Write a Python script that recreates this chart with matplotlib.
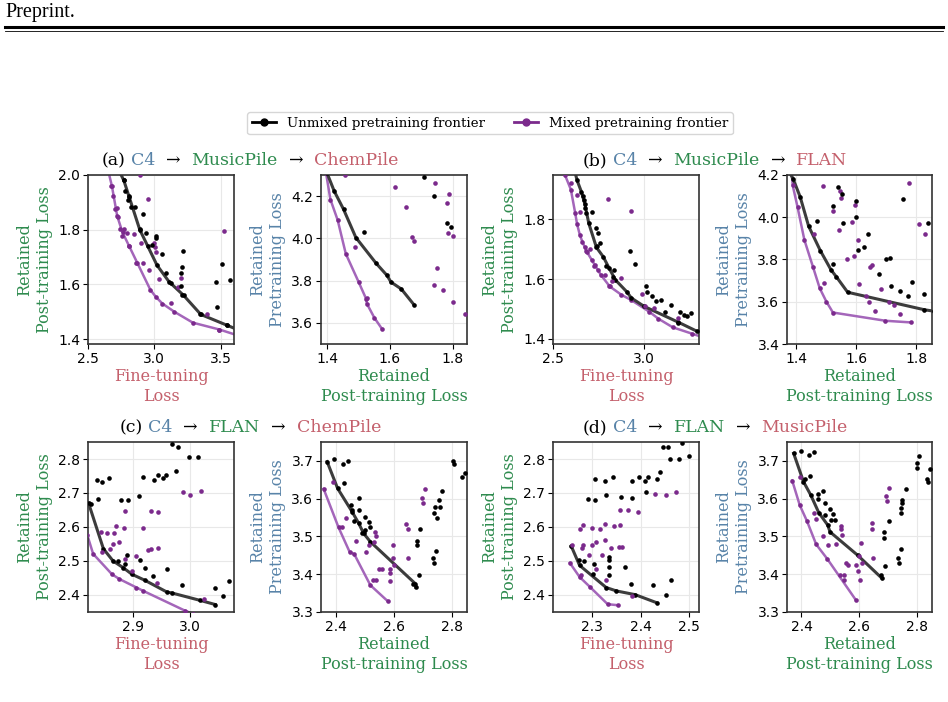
import matplotlib
matplotlib.use('Agg')
import matplotlib.pyplot as plt
from matplotlib.lines import Line2D
from matplotlib.ticker import FormatStrFormatter

# ---- data ----
# (a) left: fine-tuning loss vs retained post-training loss
a1_fb_x = [2.73, 2.77, 2.81, 2.89, 2.95, 3.02, 3.11, 3.22, 3.35, 3.55, 3.65]
a1_fb_y = [2.02, 1.98, 1.92, 1.80, 1.74, 1.67, 1.61, 1.56, 1.49, 1.45, 1.43]
a1_fp_x = [2.65, 2.68, 2.72, 2.76, 2.81, 2.87, 2.97, 3.01, 3.06, 3.15, 3.29, 3.49, 3.65]
a1_fp_y = [2.02, 1.96, 1.85, 1.79, 1.74, 1.68, 1.58, 1.555, 1.53, 1.50, 1.46, 1.435, 1.41]
a1_b_x = [2.770, 2.782, 2.807, 2.802, 2.825, 2.855, 2.913, 2.890, 2.938, 2.984, 3.016, 3.016, 3.054,
          3.089, 3.122, 3.198, 3.218, 3.210, 3.198, 3.210, 3.344, 3.462, 3.470, 3.508, 3.571, 3.545]
a1_b_y = [1.983, 1.940, 1.922, 1.910, 1.883, 1.883, 1.857, 1.801, 1.789, 1.744, 1.777, 1.768, 1.711,
          1.640, 1.606, 1.640, 1.721, 1.665, 1.594, 1.560, 1.492, 1.608, 1.517, 1.673, 1.616, 1.453]
a1_p_x = [2.676, 2.689, 2.707, 2.720, 2.727, 2.744, 2.770, 2.757, 2.795, 2.845, 2.807, 2.900, 2.953, 2.895,
          2.865, 2.916, 2.963, 3.004, 3.009, 3.001, 3.037, 3.122, 3.198, 3.180, 3.399, 3.525, 3.487]
a1_p_y = [1.959, 1.922, 1.874, 1.880, 1.845, 1.804, 1.804, 1.776, 1.789, 1.784, 1.740, 1.750, 1.914, 2.000,
          1.677, 1.677, 1.653, 1.735, 1.720, 1.750, 1.621, 1.531, 1.623, 1.592, 1.490, 1.796, 1.434]

# (a) right: retained post-training vs retained pretraining loss
a2_fb_x = [1.40, 1.423, 1.453, 1.492, 1.556, 1.591, 1.604, 1.637, 1.677]
a2_fb_y = [4.31, 4.224, 4.137, 4.004, 3.883, 3.825, 3.793, 3.760, 3.686]
a2_fp_x = [1.397, 1.411, 1.434, 1.460, 1.501, 1.525, 1.527, 1.551, 1.575]
a2_fp_y = [4.31, 4.184, 4.087, 3.927, 3.793, 3.713, 3.691, 3.624, 3.572]
a2_b_x = [1.517, 1.708, 1.740, 1.782, 1.795]
a2_b_y = [4.032, 4.291, 4.200, 4.071, 4.056]
a2_p_x = [1.458, 1.488, 1.527, 1.617, 1.651, 1.670, 1.676, 1.744, 1.750, 1.740, 1.771, 1.782,
          1.789, 1.784, 1.801, 1.801, 1.840]
a2_p_y = [4.300, 3.957, 3.718, 4.244, 4.150, 4.008, 3.988, 4.263, 3.859, 3.778, 3.754, 4.169,
          4.209, 4.024, 4.012, 3.697, 3.644]

# (b) left
b1_fb_x = [2.62, 2.632, 2.656, 2.674, 2.696, 2.738, 2.775, 2.808, 2.842, 2.903, 2.93, 3.0, 3.187, 3.288, 3.32]
b1_fb_y = [1.96, 1.931, 1.892, 1.853, 1.787, 1.706, 1.675, 1.636, 1.597, 1.558, 1.536, 1.508, 1.455, 1.425, 1.418]
b1_fp_x = [2.555, 2.565, 2.598, 2.622, 2.632, 2.647, 2.661, 2.683, 2.729, 2.762, 2.811, 2.875, 2.927,
           3.026, 3.077, 3.156, 3.26, 3.32]
b1_fp_y = [1.97, 1.95, 1.90, 1.82, 1.784, 1.748, 1.725, 1.694, 1.647, 1.614, 1.575, 1.547, 1.530,
           1.491, 1.467, 1.438, 1.417, 1.405]
b1_b_x = [2.665, 2.668, 2.678, 2.683, 2.716, 2.734, 2.747, 2.760, 2.742, 2.793, 2.833, 2.830, 2.921,
          2.949, 3.009, 3.016, 3.040, 3.062, 3.092, 3.114, 3.147, 3.196, 3.220, 3.236, 3.254, 3.187]
b1_b_y = [1.878, 1.865, 1.837, 1.822, 1.826, 1.770, 1.755, 1.722, 1.711, 1.644, 1.631, 1.608, 1.695,
          1.650, 1.577, 1.558, 1.542, 1.525, 1.530, 1.491, 1.514, 1.488, 1.480, 1.477, 1.486, 1.452]
b1_p_x = [2.601, 2.632, 2.650, 2.674, 2.687, 2.701, 2.711, 2.724, 2.747, 2.784, 2.808, 2.826, 2.870,
          2.985, 3.004, 3.053, 3.183, 2.802, 2.925]
b1_p_y = [1.923, 1.881, 1.826, 1.706, 1.689, 1.700, 1.664, 1.644, 1.631, 1.614, 1.577, 1.595, 1.603,
          1.549, 1.508, 1.503, 1.469, 1.867, 1.829]

# (b) right
b2_fb_x = [1.37, 1.389, 1.413, 1.441, 1.480, 1.516, 1.533, 1.571, 1.827, 1.86]
b2_fb_y = [4.23, 4.183, 4.096, 3.958, 3.842, 3.750, 3.719, 3.645, 3.562, 3.555]
b2_fp_x = [1.384, 1.388, 1.404, 1.427, 1.456, 1.478, 1.500, 1.522, 1.697, 1.783]
b2_fp_y = [4.22, 4.151, 4.049, 3.892, 3.763, 3.664, 3.601, 3.549, 3.510, 3.502]
b2_b_x = [1.469, 1.522, 1.521, 1.539, 1.553, 1.556, 1.600, 1.598, 1.606, 1.624, 1.639, 1.676, 1.698,
          1.711, 1.716, 1.744, 1.756, 1.771, 1.786, 1.824, 1.838]
b2_b_y = [3.983, 4.052, 3.779, 4.143, 4.109, 3.971, 4.076, 3.999, 3.845, 3.857, 3.919, 3.730, 3.801,
          3.808, 3.675, 3.651, 4.088, 3.625, 3.692, 3.637, 3.974]
b2_p_x = [1.458, 1.491, 1.489, 1.521, 1.541, 1.544, 1.549, 1.570, 1.587, 1.591, 1.594, 1.606, 1.609,
          1.633, 1.641, 1.644, 1.653, 1.661, 1.683, 1.709, 1.724, 1.747, 1.776, 1.809, 1.829]
b2_p_y = [3.923, 3.691, 4.147, 4.030, 3.939, 4.123, 4.093, 3.802, 3.978, 3.817, 4.060, 3.892, 3.685,
          3.625, 3.601, 3.763, 3.774, 3.554, 3.659, 3.601, 3.585, 3.542, 4.162, 3.966, 3.923]

# (c) left
c1_fb_x = [2.822, 2.848, 2.865, 2.883, 2.898, 2.921, 2.959, 2.968, 3.018, 3.044]
c1_fb_y = [2.670, 2.536, 2.500, 2.480, 2.461, 2.443, 2.409, 2.406, 2.384, 2.372]
c1_fp_x = [2.820, 2.830, 2.863, 2.876, 2.906, 2.918, 2.991, 3.005]
c1_fp_y = [2.575, 2.521, 2.461, 2.447, 2.422, 2.412, 2.354, 2.345]
c1_b_x = [2.827, 2.839, 2.836, 2.845, 2.858, 2.874, 2.890, 2.886, 2.878, 2.891, 2.911, 2.917, 2.912,
          2.921, 2.935, 2.936, 2.944, 2.953, 2.958, 2.960, 2.975, 2.968, 2.978, 2.985, 2.998, 3.013,
          3.044, 3.057, 3.068]
c1_b_y = [2.668, 2.683, 2.738, 2.733, 2.744, 2.500, 2.519, 2.491, 2.680, 2.678, 2.690, 2.746, 2.502,
          2.480, 2.455, 2.738, 2.754, 2.743, 2.754, 2.477, 2.764, 2.844, 2.834, 2.428, 2.807, 2.805,
          2.422, 2.396, 2.440]
c1_p_x = [2.843, 2.854, 2.866, 2.870, 2.884, 2.886, 2.845, 2.860, 2.864, 2.876, 2.886, 2.898, 2.906,
          2.917, 2.926, 2.931, 2.931, 2.943, 2.944, 2.942, 2.987, 3.000, 3.019, 3.025]
c1_p_y = [2.585, 2.583, 2.582, 2.602, 2.598, 2.648, 2.526, 2.536, 2.549, 2.557, 2.507, 2.470, 2.514,
          2.598, 2.533, 2.536, 2.648, 2.643, 2.539, 2.436, 2.702, 2.695, 2.705, 2.389]

# (c) right
c2_fb_x = [2.371, 2.407, 2.456, 2.479, 2.496, 2.519, 2.673, 2.675]
c2_fb_y = [3.698, 3.627, 3.566, 3.535, 3.508, 3.486, 3.375, 3.365]
c2_fp_x = [2.359, 2.410, 2.448, 2.464, 2.519, 2.578]
c2_fp_y = [3.626, 3.524, 3.459, 3.453, 3.371, 3.329]
c2_b_x = [2.396, 2.424, 2.441, 2.430, 2.453, 2.456, 2.479, 2.481, 2.462, 2.502, 2.513, 2.519, 2.490,
          2.502, 2.665, 2.684, 2.679, 2.679, 2.690, 2.734, 2.738, 2.745, 2.738, 2.747, 2.741, 2.753,
          2.756, 2.764, 2.802, 2.805, 2.833, 2.844]
c2_b_y = [3.704, 3.692, 3.700, 3.642, 3.583, 3.570, 3.601, 3.570, 3.542, 3.552, 3.539, 3.526, 3.510,
          3.517, 3.375, 3.397, 3.489, 3.477, 3.519, 3.442, 3.430, 3.462, 3.561, 3.550, 3.579, 3.596,
          3.579, 3.621, 3.700, 3.692, 3.658, 3.667]
c2_p_x = [2.391, 2.422, 2.437, 2.471, 2.505, 2.513, 2.533, 2.536, 2.539, 2.547, 2.558, 2.528, 2.539,
          2.585, 2.585, 2.585, 2.596, 2.598, 2.601, 2.641, 2.649, 2.649, 2.696, 2.701, 2.707]
c2_p_y = [3.645, 3.524, 3.548, 3.488, 3.458, 3.477, 3.486, 3.512, 3.501, 3.415, 3.413, 3.384, 3.386,
          3.402, 3.415, 3.382, 3.442, 3.477, 3.424, 3.532, 3.521, 3.442, 3.601, 3.589, 3.625]

# (d) left
d1_fb_x = [2.257, 2.274, 2.329, 2.350, 2.389, 2.434]
d1_fb_y = [2.543, 2.487, 2.422, 2.412, 2.401, 2.377]
d1_fp_x = [2.254, 2.274, 2.296, 2.332, 2.353]
d1_fp_y = [2.494, 2.453, 2.423, 2.373, 2.370]
d1_b_x = [2.272, 2.284, 2.303, 2.301, 2.291, 2.306, 2.305, 2.326, 2.329, 2.343, 2.334, 2.335, 2.334,
          2.335, 2.360, 2.367, 2.381, 2.383, 2.383, 2.397, 2.410, 2.412, 2.415, 2.426, 2.434, 2.441,
          2.446, 2.457, 2.460, 2.453, 2.463, 2.479, 2.486, 2.501]
d1_b_y = [2.502, 2.500, 2.492, 2.461, 2.683, 2.678, 2.741, 2.734, 2.693, 2.746, 2.512, 2.502, 2.482,
          2.459, 2.688, 2.482, 2.431, 2.686, 2.734, 2.746, 2.736, 2.702, 2.748, 2.428, 2.741, 2.761,
          2.836, 2.834, 2.799, 2.401, 2.443, 2.799, 2.847, 2.808]
d1_p_x = [2.275, 2.282, 2.300, 2.317, 2.326, 2.346, 2.358, 2.259, 2.281, 2.279, 2.299, 2.307, 2.326,
          2.293, 2.321, 2.339, 2.355, 2.361, 2.308, 2.329, 2.277, 2.383, 2.358, 2.374, 2.394, 2.430,
          2.452, 2.474]
d1_p_y = [2.593, 2.606, 2.598, 2.593, 2.609, 2.604, 2.606, 2.546, 2.546, 2.538, 2.546, 2.555, 2.562,
          2.519, 2.519, 2.539, 2.541, 2.541, 2.477, 2.443, 2.460, 2.397, 2.650, 2.650, 2.644, 2.697,
          2.694, 2.702]

# (d) right
d2_fb_x = [2.373, 2.407, 2.432, 2.460, 2.491, 2.499, 2.595, 2.679]
d2_fb_y = [3.720, 3.645, 3.610, 3.563, 3.530, 3.512, 3.450, 3.389]
d2_fp_x = [2.368, 2.394, 2.419, 2.451, 2.490, 2.589]
d2_fp_y = [3.648, 3.583, 3.541, 3.479, 3.440, 3.331]
d2_b_x = [2.397, 2.426, 2.442, 2.430, 2.414, 2.457, 2.476, 2.457, 2.480, 2.483, 2.500, 2.509, 2.503,
          2.515, 2.675, 2.691, 2.687, 2.687, 2.702, 2.733, 2.739, 2.746, 2.743, 2.743, 2.747, 2.749,
          2.762, 2.799, 2.799, 2.808, 2.833, 2.837, 2.846]
d2_b_y = [3.727, 3.716, 3.723, 3.661, 3.652, 3.612, 3.621, 3.598, 3.589, 3.557, 3.573, 3.559, 3.543,
          3.543, 3.397, 3.421, 3.512, 3.495, 3.542, 3.444, 3.430, 3.468, 3.561, 3.574, 3.596, 3.588,
          3.626, 3.694, 3.681, 3.712, 3.652, 3.645, 3.678]
d2_p_x = [2.394, 2.442, 2.451, 2.476, 2.491, 2.518, 2.537, 2.537, 2.541, 2.534, 2.546, 2.546, 2.553,
          2.561, 2.589, 2.597, 2.600, 2.604, 2.606, 2.610, 2.643, 2.646, 2.649, 2.693, 2.696, 2.702]
d2_p_y = [3.657, 3.561, 3.545, 3.501, 3.477, 3.481, 3.527, 3.519, 3.504, 3.399, 3.399, 3.386, 3.430,
          3.424, 3.424, 3.409, 3.449, 3.386, 3.483, 3.430, 3.535, 3.519, 3.444, 3.607, 3.595, 3.627]

BLUE = '#5883a8'
GREEN = '#2e8b4e'
RED = '#c4606c'
PURPLE = '#7b2a8c'
PURPLE_LINE = '#a466ba'
BLACK_LINE = '#3c3c3c'

W, H = 948, 702
fig = plt.figure(figsize=(W / 100, H / 100), dpi=100)


def box(l, t, r, b):
    return [l / W, 1 - b / H, (r - l) / W, (b - t) / H]


FT = ('Fine-tuning\nLoss', RED)
POST = ('Retained\nPost-training Loss', GREEN)
PRE = ('Retained\nPretraining Loss', BLUE)

panels = [
    (box(88, 175, 234, 344), (a1_fb_x, a1_fb_y, a1_fp_x, a1_fp_y, a1_b_x, a1_b_y, a1_p_x, a1_p_y),
     (2.5, 3.6), (1.382, 2.0), [2.5, 3.0, 3.5], [1.4, 1.6, 1.8, 2.0], FT, POST),
    (box(321, 175, 467, 344), (a2_fb_x, a2_fb_y, a2_fp_x, a2_fp_y, a2_b_x, a2_b_y, a2_p_x, a2_p_y),
     (1.381, 1.846), (3.5, 4.3), [1.4, 1.6, 1.8], [3.6, 3.8, 4.0, 4.2], POST, PRE),
    (box(553, 175, 699, 344), (b1_fb_x, b1_fb_y, b1_fp_x, b1_fp_y, b1_b_x, b1_b_y, b1_p_x, b1_p_y),
     (2.5, 3.3), (1.382, 1.949), [2.5, 3.0], [1.4, 1.6, 1.8], FT, POST),
    (box(787, 175, 932, 344), (b2_fb_x, b2_fb_y, b2_fp_x, b2_fp_y, b2_b_x, b2_b_y, b2_p_x, b2_p_y),
     (1.369, 1.852), (3.4, 4.2), [1.4, 1.6, 1.8], [3.4, 3.6, 3.8, 4.0, 4.2], POST, PRE),
    (box(88, 442, 234, 612), (c1_fb_x, c1_fb_y, c1_fp_x, c1_fp_y, c1_b_x, c1_b_y, c1_p_x, c1_p_y),
     (2.821, 3.077), (2.35, 2.85), [2.9, 3.0], [2.4, 2.5, 2.6, 2.7, 2.8], FT, POST),
    (box(321, 442, 467, 612), (c2_fb_x, c2_fb_y, c2_fp_x, c2_fp_y, c2_b_x, c2_b_y, c2_p_x, c2_p_y),
     (2.35, 2.85), (3.3, 3.75), [2.4, 2.6, 2.8], [3.3, 3.4, 3.5, 3.6, 3.7], POST, PRE),
    (box(553, 442, 699, 612), (d1_fb_x, d1_fb_y, d1_fp_x, d1_fp_y, d1_b_x, d1_b_y, d1_p_x, d1_p_y),
     (2.219, 2.521), (2.35, 2.85), [2.3, 2.4, 2.5], [2.4, 2.5, 2.6, 2.7, 2.8], FT, POST),
    (box(787, 442, 932, 612), (d2_fb_x, d2_fb_y, d2_fp_x, d2_fp_y, d2_b_x, d2_b_y, d2_p_x, d2_p_y),
     (2.35, 2.852), (3.3, 3.75), [2.4, 2.6, 2.8], [3.3, 3.4, 3.5, 3.6, 3.7], POST, PRE),
]

for rect, d, xl, yl, xt, yt, xlab, ylab in panels:
    fbx, fby, fpx, fpy, bx, by, px, py = d
    ax = fig.add_axes(rect)
    ax.grid(color='#e8e8e8', lw=0.8)
    ax.set_axisbelow(True)
    ax.plot(fpx, fpy, color=PURPLE_LINE, lw=1.8, zorder=2)
    ax.plot(fbx, fby, color=BLACK_LINE, lw=2.2, zorder=2)
    ax.scatter(fpx, fpy, s=11, color=PURPLE, lw=0, zorder=3)
    ax.scatter(fbx, fby, s=11, color='black', lw=0, zorder=3)
    ax.scatter(px, py, s=11, color=PURPLE, lw=0, zorder=3)
    ax.scatter(bx, by, s=11, color='black', lw=0, zorder=3)
    ax.set_xlim(*xl)
    ax.set_ylim(*yl)
    ax.set_xticks(xt)
    ax.set_yticks(yt)
    ax.xaxis.set_major_formatter(FormatStrFormatter('%.1f'))
    ax.yaxis.set_major_formatter(FormatStrFormatter('%.1f'))
    ax.tick_params(labelsize=10, length=3.5, width=0.8, pad=2)
    for sp in ax.spines.values():
        sp.set_color('#333333')
        sp.set_linewidth(1.2)
    ax.set_xlabel(xlab[0], color=xlab[1], family='DejaVu Serif', fontsize=11.5, labelpad=2)
    ax.set_ylabel(ylab[0], color=ylab[1], family='DejaVu Serif', fontsize=11.5, labelpad=4)

# multi-coloured panel titles
titles = [
    (250, 165, [('(a)', 'black', 1), ('C4', BLUE, 2), ('→', 'black', 2), ('MusicPile', GREEN, 2),
                ('→', 'black', 2), ('ChemPile', RED, 0)]),
    (715, 165, [('(b)', 'black', 1), ('C4', BLUE, 2), ('→', 'black', 2), ('MusicPile', GREEN, 2),
                ('→', 'black', 2), ('FLAN', RED, 0)]),
    (250, 432, [('(c)', 'black', 1), ('C4', BLUE, 2), ('→', 'black', 2), ('FLAN', GREEN, 2),
                ('→', 'black', 2), ('ChemPile', RED, 0)]),
    (715, 432, [('(d)', 'black', 1), ('C4', BLUE, 2), ('→', 'black', 2), ('FLAN', GREEN, 2),
                ('→', 'black', 2), ('MusicPile', RED, 0)]),
]
renderer = fig.canvas.get_renderer()
TFS = 12.5
t1 = fig.text(0, 0, 'aa', fontsize=TFS, family='DejaVu Serif')
t2 = fig.text(0, 0, 'a a', fontsize=TFS, family='DejaVu Serif')
space = t2.get_window_extent(renderer).width - t1.get_window_extent(renderer).width
t1.remove()
t2.remove()
for xc, yb, pieces in titles:
    arts = [fig.text(0, 1 - yb / H, s, color=c, fontsize=TFS, family='DejaVu Serif', va='baseline')
            for s, c, g in pieces]
    widths = [a.get_window_extent(renderer).width for a in arts]
    total = sum(widths) + space * sum(g for _, _, g in pieces)
    x = xc - total / 2
    for a, w, (_, _, g) in zip(arts, widths, pieces):
        a.set_x(x / W)
        x += w + g * space

# legend
handles = [Line2D([], [], color='black', marker='o', ms=5, lw=2),
           Line2D([], [], color=PURPLE, marker='o', ms=5, lw=2)]
fig.legend(handles, ['Unmixed pretraining frontier', 'Mixed pretraining frontier'],
           loc='center', bbox_to_anchor=(490 / W, 1 - 123 / H), ncol=2,
           prop={'family': 'DejaVu Serif', 'size': 9.6}, edgecolor='#cccccc',
           handlelength=1.8, columnspacing=2.2, borderpad=0.35)

# page header
fig.text(5 / W, 1 - 13 / H, 'Preprint.', family='Liberation Serif', fontsize=14.5, va='center')
fig.add_artist(Line2D([5 / W, 943 / W], [1 - 27.3 / H] * 2, color='black', lw=2.2,
                      transform=fig.transFigure))
fig.add_artist(Line2D([5 / W, 943 / W], [1 - 31.3 / H] * 2, color='black', lw=0.6,
                      transform=fig.transFigure))

fig.savefig('out.png', dpi=100)
